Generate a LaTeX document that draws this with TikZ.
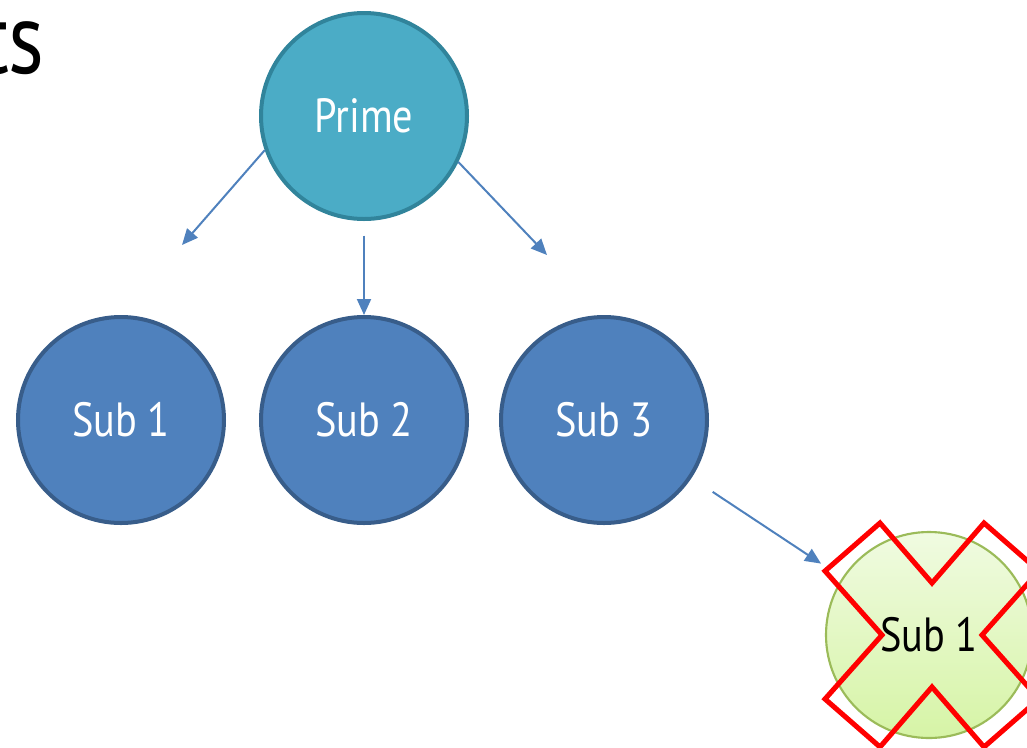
\documentclass[tikz,border=0pt]{standalone}
\usepackage{fontspec}
\setmainfont{PT Sans}[FakeStretch=0.84]
\usetikzlibrary{arrows.meta}
\definecolor{primefill}{HTML}{4BACC6}
\definecolor{primeline}{HTML}{31849B}
\definecolor{subfill}{HTML}{4F81BD}
\definecolor{subline}{HTML}{385D8A}
\definecolor{greenline}{HTML}{9BBB59}
\definecolor{greentop}{HTML}{F0FBE1}
\definecolor{greenbot}{HTML}{D6F4A6}
\definecolor{arrowblue}{HTML}{4F81BD}
\tikzset{
  bubble/.style={circle, minimum size=154.5pt, inner sep=0pt, line width=3pt,
    font=\fontsize{36}{40}\selectfont, text=white},
  primebubble/.style={bubble, fill=primefill, draw=primeline},
  subbubble/.style={bubble, fill=subfill, draw=subline},
  greenbubble/.style={bubble, line width=1.6pt, draw=greenline, text=black,
    top color=greentop, bottom color=greenbot},
  conn/.style={draw=arrowblue, line width=1.5pt,
    -{Triangle[length=12pt,width=10.5pt]}},
  cross/.style={draw=red, line width=3.8pt, miter limit=10}
}
\begin{document}
\begin{tikzpicture}[x=0.75pt,y=-0.75pt]
\useasboundingbox (0,0) rectangle (1027,747);
\clip (0,0) rectangle (1027,747);
\node[anchor=base east, font=\fontsize{76}{80}\selectfont, inner sep=0pt] (title) at (45,73) {ts};
\node[primebubble] (prime) at (364,116) {Prime};
\node[subbubble] (sub1) at (121,420) {Sub 1};
\node[subbubble] (sub2) at (364,420) {Sub 2};
\node[subbubble] (sub3) at (604,420) {Sub 3};
\node[greenbubble] (gsub) at (929,635) {Sub 1};
\coordinate (e1) at (182,245);
\coordinate (e3) at (547,255);
\draw[conn] (prime.199) -- (e1);
\draw[conn] (prime.-26) -- (e3);
\draw[conn, shorten <=11pt] (prime.south) -- (sub2.north);
\draw[conn, shorten <=19pt, shorten >=19pt] (sub3) -- (gsub);
\draw[cross, shift={(932,635)}]
  (0,-52) -- (52,-112) -- (107,-64) -- (50,0) -- (107,64) -- (52,112) -- (0,52)
  -- (-52,112) -- (-107,64) -- (-50,0) -- (-107,-64) -- (-52,-112) -- cycle;
\end{tikzpicture}
\end{document}
